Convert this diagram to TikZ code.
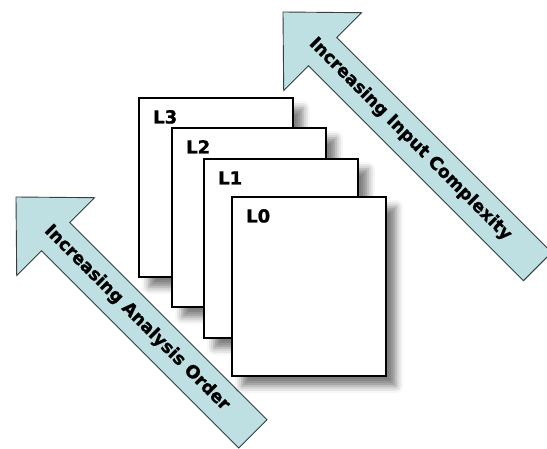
\documentclass[tikz,border=0pt]{standalone}
\usepackage{fontspec}
\setmainfont{DejaVu Sans}
\newfontfamily\heavyfont[FakeBold=1.2]{DejaVu Sans Bold}
\usetikzlibrary{shadows.blur}
\definecolor{arrowfill}{RGB}{190,224,226}
\definecolor{arrowline}{RGB}{55,60,60}

\begin{document}
\begin{tikzpicture}[x=1pt,y=-1pt,
  layer/.style={draw=black, line width=1.8pt, fill=white, outer sep=0pt, inner sep=0pt,
    minimum width=154pt, minimum height=179pt, anchor=north west,
    blur shadow={shadow xshift=10pt, shadow yshift=-10pt, shadow blur radius=7pt, shadow opacity=50}},
  layerlabel/.style={anchor=base west, inner sep=0pt, font=\heavyfont\fontsize{18}{18}\selectfont},
  bigarrow/.style={fill=arrowfill, draw=arrowline, line width=0.9pt, line join=miter},
  arrowtext/.style={font=\heavyfont\fontsize{17.5}{17.5}\selectfont, rotate=-45, inner sep=0pt}
]
\useasboundingbox (0,0) rectangle (547,449);
\clip (0,0) rectangle (547,449);

% arrow along the analysis order
\begin{scope}[shift={(16,197)}, rotate=-45]
  \draw[bigarrow] (0,0) -- (56,55) -- (56,20) -- (335,20) -- (335,-20)
    -- (56,-20) -- (56,-55) -- cycle;
  \node[arrowtext] (order) at (171,0) {Increasing Analysis Order};
\end{scope}

% arrow along the input complexity
\begin{scope}[shift={(283,12)}, rotate=-45]
  \draw[bigarrow] (0,0) -- (56,55) -- (56,20) -- (360,20) -- (360,-20)
    -- (56,-20) -- (56,-55) -- cycle;
  \node[arrowtext] (input) at (180,0) {Increasing Input Complexity};
\end{scope}

% stacked levels, back to front
\node[layer] (L3) at (139,98) {};
\node[layerlabel] at ([xshift=14pt, yshift=-25.5pt]L3.north west) {L3};
\node[layer] (L2) at (172,128) {};
\node[layerlabel] at ([xshift=14pt, yshift=-25.5pt]L2.north west) {L2};
\node[layer] (L1) at (204,159) {};
\node[layerlabel] at ([xshift=14pt, yshift=-25.5pt]L1.north west) {L1};
\node[layer] (L0) at (232,197) {};
\node[layerlabel] at ([xshift=14pt, yshift=-25.5pt]L0.north west) {L0};
\end{tikzpicture}
\end{document}
